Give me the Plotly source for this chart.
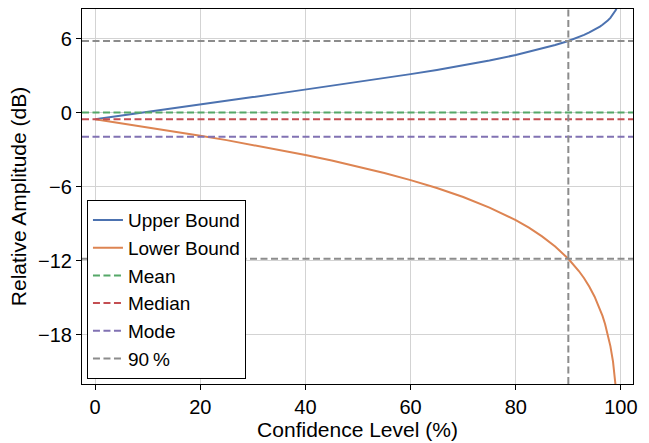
import plotly.graph_objects as go

confidence = [0, 5, 10, 15, 20, 25, 30, 35, 40, 45, 50, 55, 60, 65, 70, 75, 80,
              82.5, 85, 87.5, 90, 91, 92, 93, 94, 95, 96, 96.5, 97, 97.5, 98,
              98.5, 98.75, 99, 99.25, 99.5]
upper_db = [-0.54, -0.23, 0.07, 0.37, 0.67, 0.97, 1.26, 1.56, 1.86, 2.16, 2.47,
            2.79, 3.12, 3.46, 3.83, 4.23, 4.67, 4.92, 5.18, 5.48, 5.81, 5.96,
            6.13, 6.30, 6.50, 6.72, 6.97, 7.12, 7.28, 7.47, 7.68, 7.95, 8.10,
            8.29, 8.52, 8.83]
lower_db = [-0.54, -0.86, -1.19, -1.52, -1.87, -2.23, -2.61, -3.01, -3.43, -3.88,
            -4.36, -4.89, -5.47, -6.11, -6.84, -7.70, -8.72, -9.33, -10.03,
            -10.85, -11.85, -12.32, -12.84, -13.43, -14.11, -14.92, -15.90,
            -16.48, -17.16, -17.96, -18.93, -20.18, -20.98, -21.95, -23.20,
            -25.00]

mean_db = 0.0
median_db = -0.54
mode_db = -1.96
conf_90 = 90
upper_90 = 5.81
lower_90 = -11.85

y_ticks = [6, 0, -6, -12, -18]
x_ticks = [0, 20, 40, 60, 80, 100]

BLUE = "#4C72B0"
ORANGE = "#DD8452"
GREEN = "#55A868"
RED = "#C44E52"
PURPLE = "#8172B3"
GRAY = "#8C8C8C"
DASH = "7px,3.5px"

fig = go.Figure()
fig.add_trace(go.Scatter(x=confidence, y=upper_db, mode="lines", name="Upper Bound",
                         line=dict(color=BLUE, width=2), legendrank=1))
fig.add_trace(go.Scatter(x=confidence, y=lower_db, mode="lines", name="Lower Bound",
                         line=dict(color=ORANGE, width=2), legendrank=2))

fig.add_hline(y=mean_db, line=dict(color=GREEN, width=2, dash=DASH),
              showlegend=True, name="Mean", legendrank=3)
fig.add_hline(y=median_db, line=dict(color=RED, width=2, dash=DASH),
              showlegend=True, name="Median", legendrank=4)
fig.add_hline(y=mode_db, line=dict(color=PURPLE, width=2, dash=DASH),
              showlegend=True, name="Mode", legendrank=5)
fig.add_hline(y=upper_90, line=dict(color=GRAY, width=2, dash=DASH),
              showlegend=True, name="90\u2009%", legendrank=6)
fig.add_hline(y=lower_90, line=dict(color=GRAY, width=2, dash=DASH))
fig.add_vline(x=conf_90, line=dict(color=GRAY, width=2, dash=DASH))

axis_common = dict(showline=True, linecolor="black", linewidth=1.2, mirror=True,
                   ticks="outside", ticklen=5, tickcolor="black",
                   showgrid=True, gridcolor="#D3D3D3", gridwidth=1, zeroline=False,
                   tickfont=dict(size=20, color="black"))

fig.update_xaxes(range=[-2.5, 102.3], tickvals=x_ticks,
                 title=dict(text="Confidence Level (%)", font=dict(size=21, color="black"),
                            standoff=2),
                 **axis_common)
fig.update_yaxes(range=[-22.0, 8.4], tickvals=y_ticks,
                 title=dict(text="Relative Amplitude (dB)", font=dict(size=21, color="black"),
                            standoff=5),
                 **axis_common)

fig.update_layout(
    width=649, height=443,
    margin=dict(l=82, r=16, t=8, b=52),
    plot_bgcolor="white", paper_bgcolor="white",
    font=dict(family="Liberation Sans, Arial, sans-serif", size=20, color="black"),
    legend=dict(x=0.009, y=0.013, xanchor="left", yanchor="bottom",
                bgcolor="white", bordercolor="black", borderwidth=1,
                font=dict(size=19), itemwidth=30, tracegroupgap=0),
    showlegend=True,
)

fig.write_html("out.html")
